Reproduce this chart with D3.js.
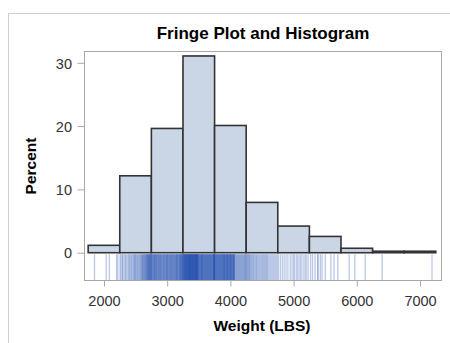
<!DOCTYPE html>
<html><head><meta charset="utf-8">
<script src="https://cdn.jsdelivr.net/npm/d3@7"></script>
<style>body{margin:0;background:#fff}svg{display:block}text{font-family:"Liberation Sans",Arial,sans-serif}</style>
</head><body><svg id="c" width="450" height="343"></svg>
<script>
// Vehicle weights (LBS), read from fringe positions
const weights = [
1850,2035,2085,2200,2220,
2255,2270,2290,2300,2320,2340,2350,2370,2390,2400,2415,2430,2440,2455,2470,2480,2490,2500,2510,2524,2535,2545,2560,2570,2580,2590,2600,2605,2615,2620,2630,2635,2645,2650,2660,2665,2670,2678,2685,2690,2695,2700,2705,2710,2715,2720,2725,2730,2735,2740,2745,2748,
2752,2758,2765,2770,2778,2785,2790,2795,2800,2805,2811,2818,2822,2830,2835,2840,2848,2855,2860,2866,2875,2880,2888,2890,2897,2905,2910,2918,2925,2932,2940,2945,2950,2957,2965,2970,2978,2985,2990,2998,3000,3005,3012,3020,3025,3033,3040,3045,3050,3058,3065,3070,3075,3082,3090,3095,3100,3108,3115,3120,3126,3133,3140,3145,3150,3155,3160,3166,3172,3179,3185,3190,3197,3200,3206,3210,3215,3220,3225,3230,3235,3240,3244,3248,
3252,3255,3260,3263,3268,3270,3275,3278,3280,3285,3288,3290,3295,3298,3300,3303,3306,3310,3314,3318,3320,3325,3328,3330,3335,3338,3340,3345,3348,3350,3353,3355,3360,3362,3365,3368,3370,3375,3378,3380,3384,3388,3390,3395,3397,3400,3402,3405,3410,3412,3415,3418,3420,3424,3426,3430,3435,3437,3440,3444,3446,3450,3452,3455,3460,3462,3465,3468,3470,3472,3475,3478,3480,3485,3488,3490,3495,3500,3505,3510,3515,3520,3525,3530,3535,3540,3545,3548,3550,3555,3560,3565,3570,3575,3580,3585,3590,3595,3600,3605,3610,3615,3620,3625,3630,3635,3640,3645,3650,3655,3660,3665,3670,3675,3680,3685,3690,3695,3700,3705,3710,3715,3720,3725,3730,3735,3740,3742,3745,3748,3749,3746,3738,
3755,3760,3765,3770,3775,3780,3785,3790,3795,3800,3805,3810,3815,3820,3825,3830,3835,3840,3845,3850,3855,3860,3865,3870,3875,3880,3885,3890,3895,3900,3905,3910,3915,3920,3925,3930,3935,3940,3945,3950,3955,3960,3965,3970,3975,3980,3985,3990,3995,4000,4005,4010,4015,4020,4025,4030,4035,4040,4045,4050,4055,4060,4065,4070,4080,4090,4100,4110,4120,4130,4140,4150,4160,4170,4180,4190,4200,4210,4220,4230,4240,4245,3902,3952,4002,4052,
4255,4265,4275,4285,4295,4305,4315,4330,4340,4355,4365,4380,4395,4410,4420,4435,4450,4465,4480,4495,4510,4525,4540,4555,4570,4585,4600,4620,4640,4660,4680,4700,4720,4740,
4760,4790,4820,4850,4880,4910,4947,4975,5000,5020,5050,5070,5100,5120,5150,5180,5200,5230,
5270,5300,5340,5379,5390,5423,5450,5500,5590,5640,5700,
5879,5969,6133,6400,7190
];
const binEdges = [1750,2250,2750,3250,3750,4250,4750,5250,5750,6250,6750,7250];
const xTicks = [2000,3000,4000,5000,6000,7000];
const yTicks = [0,10,20,30];

const svg = d3.select("#c");
svg.append("rect").attr("x",8.5).attr("y",13.5).attr("width",460).attr("height",340)
  .attr("fill","none").attr("stroke","#d0d0d0");

const L=84,R=442,T=51,B=280;
const x = d3.scaleLinear().domain([1684,7348]).range([L,R]);
const y = d3.scaleLinear().domain([-4.31,31.86]).range([B,T]);

const bins = d3.bin().domain([binEdges[0],binEdges[binEdges.length-1]]).thresholds(binEdges.slice(1,-1))(weights);
const N = weights.length;

// fringe
svg.append("g").selectAll("line").data(weights).join("line")
  .attr("x1",d=>x(d)).attr("x2",d=>x(d))
  .attr("y1",y(0)+1.5).attr("y2",B)
  .attr("stroke","#1a48ad").attr("stroke-opacity",0.3).attr("stroke-width",1.3);

// bars
svg.append("g").selectAll("rect").data(bins).join("rect")
  .attr("x",d=>x(d.x0)).attr("width",d=>x(d.x1)-x(d.x0))
  .attr("y",d=>y(d.length/N*100)).attr("height",d=>y(0)-y(d.length/N*100))
  .attr("fill","#cad5e5").attr("stroke","#333").attr("stroke-width",1.6);

// frame
svg.append("rect").attr("x",L+0.5).attr("y",T+0.5).attr("width",R-L-1).attr("height",B-T)
  .attr("fill","none").attr("stroke","#a8a8a8");

// axes
const xa = svg.append("g").attr("transform",`translate(0,${B+0.5})`)
  .call(d3.axisBottom(x).tickValues(xTicks).tickSize(6).tickPadding(9).tickFormat(d3.format("d")));
const ya = svg.append("g").attr("transform",`translate(${L+0.5},0)`)
  .call(d3.axisLeft(y).tickValues(yTicks).tickSize(7).tickPadding(5.5).tickFormat(d3.format("d")));
[xa,ya].forEach(g=>{
  g.select(".domain").remove();
  g.selectAll(".tick line").attr("stroke","#a8a8a8");
  g.selectAll("text").attr("fill","#333").attr("font-size",14.5).style("font-family","'Liberation Sans',Arial,sans-serif");
});
ya.selectAll("text").attr("dy","0.36em");

svg.append("text").attr("x",263).attr("y",39).attr("text-anchor","middle")
  .attr("font-size",17).attr("font-weight","bold").attr("fill","#000").text("Fringe Plot and Histogram");
svg.append("text").attr("x",262).attr("y",331).attr("text-anchor","middle")
  .attr("font-size",15.5).attr("font-weight","bold").attr("fill","#000").text("Weight (LBS)");
svg.append("text").attr("transform","translate(36,166) rotate(-90)").attr("text-anchor","middle")
  .attr("font-size",15.5).attr("font-weight","bold").attr("fill","#000").text("Percent");
</script></body></html>
